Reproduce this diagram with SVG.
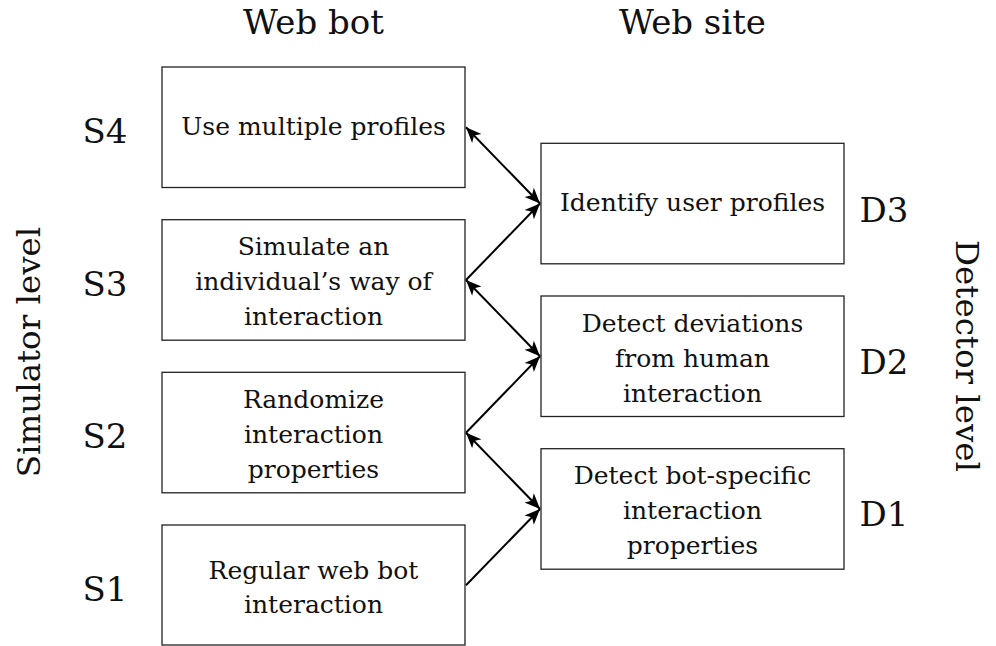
<svg xmlns="http://www.w3.org/2000/svg" width="996" height="646" viewBox="0 0 996 646">
<style>
  text { fill: #111; font-family: "DejaVu Serif", "Liberation Serif", serif; }
  .bt { font-size: 25px; text-anchor: middle; }
  .lab { font-size: 34px; text-anchor: middle; }
  .vlab { font-size: 32.5px; text-anchor: middle; }
  .box { fill: #fff; stroke: #222; stroke-width: 1.3; }
  .conn { stroke: #000; stroke-width: 2; fill: none; }
</style>
<defs>
  <marker id="ah" markerUnits="userSpaceOnUse" markerWidth="20" markerHeight="18" viewBox="-18 -9 20 18" refX="0" refY="0" orient="auto-start-reverse">
    <path d="M0,0 L-15.5,-6.5 L-11.5,0 L-15.5,6.5 Z" fill="#000"/>
  </marker>
</defs>
<rect width="996" height="646" fill="#fff"/>

<g id="titles">
  <text class="lab" x="313.5" y="34">Web bot</text>
  <text class="lab" x="692.5" y="34">Web site</text>
  <text class="vlab" transform="translate(40,352) rotate(-90)">Simulator level</text>
  <text class="vlab" transform="translate(956,356) rotate(90)">Detector level</text>
</g>

<g id="levels">
  <text class="lab" x="105" y="143">S4</text>
  <text class="lab" x="105" y="296">S3</text>
  <text class="lab" x="105" y="448">S2</text>
  <text class="lab" x="105" y="601">S1</text>
  <text class="lab" x="884" y="222">D3</text>
  <text class="lab" x="884" y="374">D2</text>
  <text class="lab" x="884" y="526">D1</text>
</g>

<g id="S4">
  <rect class="box" x="162" y="67" width="303" height="120.5"/>
  <text class="bt" x="313.5" y="135">Use multiple profiles</text>
</g>
<g id="S3">
  <rect class="box" x="162" y="219.7" width="303" height="120.5"/>
  <text class="bt" x="313.5" y="255">Simulate an</text>
  <text class="bt" x="313.5" y="290">individual’s way of</text>
  <text class="bt" x="313.5" y="325">interaction</text>
</g>
<g id="S2">
  <rect class="box" x="162" y="372.3" width="303" height="120.5"/>
  <text class="bt" x="313.5" y="407.5">Randomize</text>
  <text class="bt" x="313.5" y="442.5">interaction</text>
  <text class="bt" x="313.5" y="477.5">properties</text>
</g>
<g id="S1">
  <rect class="box" x="162" y="525" width="303" height="120"/>
  <text class="bt" x="313.5" y="579">Regular web bot</text>
  <text class="bt" x="313.5" y="613">interaction</text>
</g>

<g id="D3">
  <rect class="box" x="541" y="143.3" width="303" height="120.5"/>
  <text class="bt" x="692.5" y="210.5">Identify user profiles</text>
</g>
<g id="D2">
  <rect class="box" x="541" y="296" width="303" height="120.5"/>
  <text class="bt" x="692.5" y="332">Detect deviations</text>
  <text class="bt" x="692.5" y="367">from human</text>
  <text class="bt" x="692.5" y="402">interaction</text>
</g>
<g id="D1">
  <rect class="box" x="541" y="448.7" width="303" height="120.5"/>
  <text class="bt" x="692.5" y="484">Detect bot-specific</text>
  <text class="bt" x="692.5" y="519">interaction</text>
  <text class="bt" x="692.5" y="554">properties</text>
</g>

<g id="connectors">
  <line class="conn" x1="466" y1="127.3" x2="540" y2="203.5" marker-start="url(#ah)" marker-end="url(#ah)"/>
  <line class="conn" x1="466" y1="280" x2="540" y2="203.5" marker-end="url(#ah)"/>
  <line class="conn" x1="466" y1="280" x2="540" y2="356.3" marker-start="url(#ah)" marker-end="url(#ah)"/>
  <line class="conn" x1="466" y1="432.7" x2="540" y2="356.3" marker-end="url(#ah)"/>
  <line class="conn" x1="466" y1="432.7" x2="540" y2="509" marker-start="url(#ah)" marker-end="url(#ah)"/>
  <line class="conn" x1="466" y1="585.3" x2="540" y2="509" marker-end="url(#ah)"/>
</g>
</svg>
